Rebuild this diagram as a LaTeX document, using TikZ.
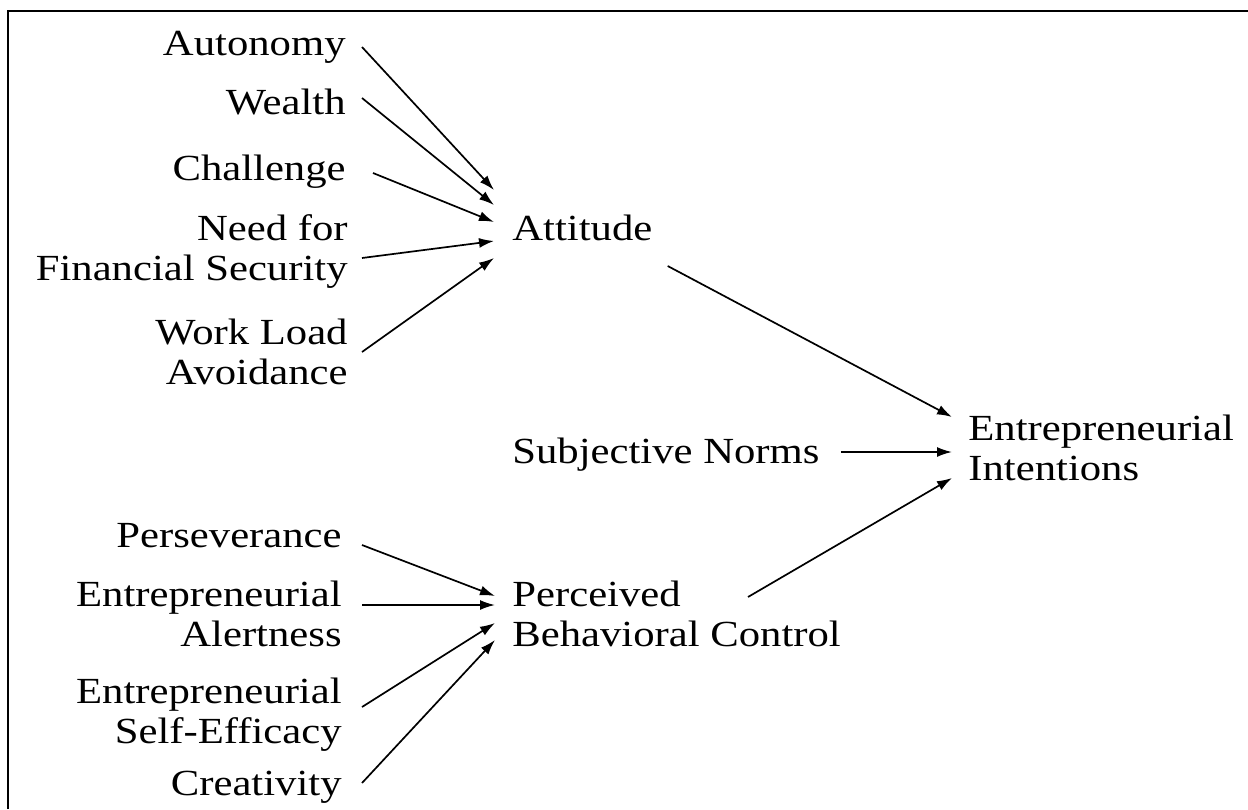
\documentclass[tikz,border=0pt]{standalone}
\usepackage{fontspec}
\setmainfont[FakeStretch=1.16]{Liberation Serif}
\usetikzlibrary{arrows.meta,positioning}

\begin{document}
\begin{tikzpicture}[x=0.5pt,y=-0.5pt,
lbl/.style={inner sep=0pt,font=\fontsize{18.4}{20}\selectfont},
src/.style={lbl,anchor=base east,align=right},
tgt/.style={lbl,anchor=base west,align=left},
arr/.style={-{Latex[length=7.5pt,width=5pt]},line width=0.85pt}]
\useasboundingbox (0,0) rectangle (1248,809);
\draw[line width=1pt] (8,809) -- (8,11) -- (1248,11);
% attitude drivers
\node[src] (aut) at (346,55) {Autonomy};
\node[src] (wea) at (346,114) {Wealth};
\node[src] (cha) at (346,180) {Challenge};
\node[src] (nee) at (348,280) {Need for\\Financial Security};
\node[src] (wor) at (348,384) {Work Load\\Avoidance};
% control drivers
\node[src] (per) at (342,547) {Perseverance};
\node[src] (ale) at (342,646) {Entrepreneurial\\Alertness};
\node[src] (sel) at (342,743) {Entrepreneurial\\Self-Efficacy};
\node[src] (cre) at (342,795) {Creativity};
% constructs
\node[tgt] (att) at (512,240) {Attitude};
\node[tgt] (sub) at (512,463) {Subjective Norms};
\node[tgt] (pbc) at (512,646) {Perceived\\Behavioral Control};
\node[tgt] (ent) at (968,480) {Entrepreneurial\\Intentions};
\draw[arr] ([shift={(16,-8)}]aut.base east) -- ([shift={(-18,-50)}]att.base west);
\draw[arr] ([shift={(16,-16)}]wea.base east) -- ([shift={(-18,-35)}]att.base west);
\draw[arr] ([shift={(27,-7)}]cha.base east) -- ([shift={(-18,-18)}]att.base west);
\draw[arr] ([shift={(14,-22)}]nee.base east) -- ([shift={(-18,1)}]att.base west);
\draw[arr] ([shift={(14,-32)}]wor.base east) -- ([shift={(-18,18)}]att.base west);
\draw[arr] ([shift={(20,-2)}]per.base east) -- ([shift={(-17,-50)}]pbc.base west);
\draw[arr] ([shift={(20,-41)}]ale.base east) -- ([shift={(-17,-41)}]pbc.base west);
\draw[arr] ([shift={(20,-36)}]sel.base east) -- ([shift={(-17,-23)}]pbc.base west);
\draw[arr] ([shift={(20,-12)}]cre.base east) -- ([shift={(-17,-6)}]pbc.base west);
\draw[arr] ([shift={(15,26)}]att.base east) -- ([shift={(-16,-63)}]ent.base west);
\draw[arr] ([shift={(21,-11)}]sub.base east) -- ([shift={(-16,-28)}]ent.base west);
\draw[arr] ([shift={(236,-49)}]pbc.base west) -- ([shift={(-16,-2)}]ent.base west);
\end{tikzpicture}
\end{document}
